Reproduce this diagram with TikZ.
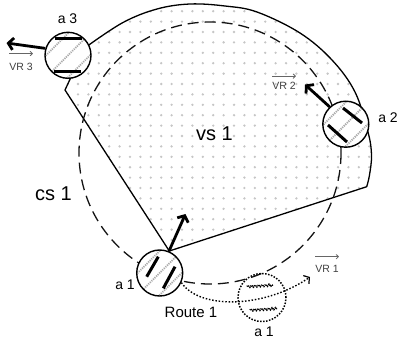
\documentclass[tikz,border=0pt]{standalone}
\usepackage{fontspec}
\setmainfont{Liberation Sans}
\usetikzlibrary{arrows.meta,calc,decorations.pathmorphing}
\begin{document}
\begin{tikzpicture}[x=1pt,y=-1pt,
  agent/.style={circle,draw,line width=1.4pt,fill=white,minimum size=46pt,inner sep=0pt,
    path picture={\foreach \k in {-1,0,1}{\draw[gray!65,line width=1.8pt,dash pattern=on 1.2pt off 1pt]
      ($(path picture bounding box.center)+(\k*11pt,-\k*11pt)+(-30pt,-30pt)$) -- +(60pt,60pt);}}},
  ghost/.style={circle,draw,line width=1.5pt,dash pattern=on 1.5pt off 1.5pt,minimum size=48pt,inner sep=0pt},
  bar/.style={line width=3pt},
  ghostbar/.style={line width=1.5pt,dash pattern=on 1pt off 0.8pt,decorate,decoration={snake,amplitude=1pt,segment length=3.5pt}},
  move/.style={line width=2.8pt,-{Straight Barb[length=5pt,width=12pt]}},
  route/.style={line width=1.4pt,dash pattern=on 1.5pt off 1.8pt,-{Straight Barb[length=4pt,width=10pt,line width=1.2pt]}},
  cs/.style={line width=1.3pt,gray!15!black,dash pattern=on 11pt off 6pt},
  big/.style={font=\fontsize{20}{24}\selectfont,inner sep=0pt},
  albl/.style={font=\fontsize{14}{16}\selectfont,inner sep=0pt},
  vr/.style={font=\fontsize{10.5}{12}\selectfont,text=black!75,inner sep=0pt},
  vrarrow/.style={black!60,line width=0.8pt,-{To[length=3pt,width=5pt]}}
]
\useasboundingbox (0,0) rectangle (398,343);
\def\sectorpath{(169.3,251) -- (65,90) -- (72,75) -- plot[smooth,tension=0.6] coordinates {(86,47) (123,22.5) (157,9) (190,4) (225,6) (257,12) (300,33) (332,60) (355,92) (368,132) (371.5,155) (369.5,175) (366.7,186.7)} -- cycle}
% dotted fill of the visibility sector
\begin{scope}
  \clip \sectorpath;
  \foreach \i in {-8,...,24}{\foreach \j in {-9,...,17}{
    \fill[gray!45] (130+10.4*\i,84+10.4*\j) circle[radius=1.3pt];}}
\end{scope}
\draw[line width=1.3pt,line join=round] \sectorpath;
% communication circle
\draw[cs] (210,153) circle[radius=131];
% agents
\node[agent] (a1) at (159.7,273) {};
\node[agent] (a2) at (345.8,124.2) {};
\node[agent] (a3) at (68,55.3) {};
\node[ghost] (g1) at (262,297.5) {};
% wheels
\draw[bar] (146.7,276.7) -- (158.3,256.7);
\draw[bar] (163.3,288.3) -- (175,266.7);
\draw[bar] (343,108) -- (362,123);
\draw[bar] (328,125) -- (347,142);
\draw[bar] (54.5,38.5) -- (82,38.5);
\draw[bar] (53.5,71) -- (81,71);
\draw[ghostbar] (247,286.5) -- (273,285);
\draw[ghostbar] (250,310) -- (277,308.5);
% heading arrows
\coordinate (t1) at (185.5,214);
\coordinate (t2) at (305,84.5);
\coordinate (t3) at (6.5,43);
\draw[move] (a1.67) -- (t1);
\draw[move] (a2.133) -- (t2);
\draw[move] (a3.163) -- (t3);
% route
\coordinate (r1) at (310,277);
\draw[route] (a1.-24) .. controls (200,310) and (265,308) .. (r1);
% labels
\node[big] (vs) at (214.5,134) {vs 1};
\node[big] (cs1) at (53.5,193.5) {cs 1};
\node[albl] (la3) at (67.5,18.5) {a 3};
\node[albl] (la2) at (388,118) {a 2};
\node[albl] (la1) at (125,285) {a 1};
\node[albl] (lg1) at (264,332) {a 1};
\node[font=\fontsize{15}{18}\selectfont,inner sep=0pt] (rt) at (191,312) {Route 1};
\node[vr] (vr3) at (21,66.5) {VR 3};
\node[vr] (vr2) at (284,86) {VR 2};
\node[vr] (vr1) at (327,268.5) {VR 1};
\draw[vrarrow] ([yshift=9pt]vr3.north west) -- ([yshift=9pt]vr3.north east);
\draw[vrarrow] ([yshift=6pt]vr2.north west) -- ([yshift=6pt]vr2.north east);
\draw[vrarrow] ([yshift=8pt]vr1.north west) -- ([yshift=8pt]vr1.north east);
\end{tikzpicture}
\end{document}
